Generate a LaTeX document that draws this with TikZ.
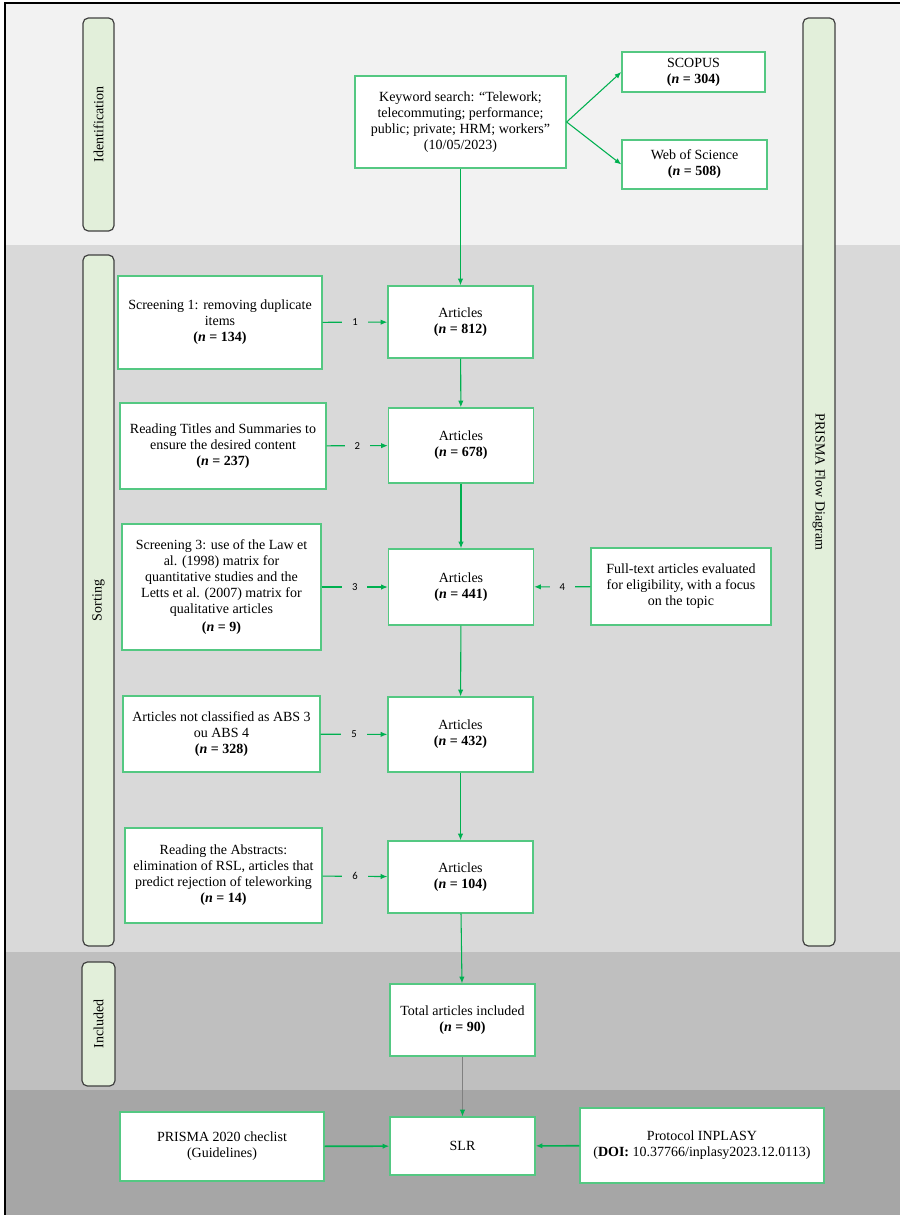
\documentclass[tikz,border=0pt]{standalone}
\usepackage{fontspec}
\setmainfont{Liberation Serif}
\newfontfamily\numfont{Carlito}
\usetikzlibrary{fit,arrows.meta}

\definecolor{bandA}{HTML}{F2F2F2}
\definecolor{bandB}{HTML}{D9D9D9}
\definecolor{bandC}{HTML}{BFBFBF}
\definecolor{bandD}{HTML}{A6A6A6}
\definecolor{boxgreen}{RGB}{84,200,130}
\definecolor{arrowgreen}{RGB}{0,176,80}
\definecolor{stagefill}{HTML}{E2EFDA}

\tikzset{
  box/.style={draw=boxgreen, fill=white, line width=1pt, inner sep=0pt,
    align=center, font=\fontsize{10.5}{12}\selectfont},
  wh/.style 2 args={minimum width=#1*0.75pt, minimum height=#2*0.75pt},
  stage/.style={draw=black!75, fill=stagefill, rounded corners=4pt,
    line width=0.9pt, inner sep=0pt},
  stagetext/.style={font=\fontsize{10.5}{12}\selectfont},
  flow/.style={draw=arrowgreen, line width=0.8pt, -{Latex[length=5pt,width=4pt]}},
  num/.style={fill=bandB, font=\numfont\fontsize{8}{9}\selectfont,
    inner sep=0pt, minimum width=19pt, minimum height=9pt}
}

\begin{document}
\begin{tikzpicture}[x=0.75pt, y=-0.75pt]

  % picture size in px (y downwards)
  \useasboundingbox (0,0) rectangle (900,1215);

  % ---- background bands ----
  \fill[bandA] (5,3) rectangle (900,245);
  \fill[bandB] (5,245) rectangle (900,952);
  \fill[bandC] (5,952) rectangle (900,1090);
  \fill[bandD] (5,1090) rectangle (900,1215);
  \draw[line width=1pt] (5,1215) -- (5,3) -- (900,3);

  % ---- stage labels ----
  \node[stage, fit={(83,18) (114,231)}] (ident) {};
  \node[stagetext, rotate=90] at (ident) {Identification};

  \node[stage, fit={(83,255) (114,946)}] (sort) {};
  \node[stagetext, rotate=90] at (sort) {Sorting};

  \node[stage, fit={(82,962) (115,1086)}] (incl) {};
  \node[stagetext, rotate=90] at (incl) {Included};

  \node[stage, fit={(803,18) (835,946)}] (flowdiag) {};
  \node[stagetext, rotate=-90] at (flowdiag) {PRISMA Flow Diagram};

  % ---- identification ----
  \node[box, wh={211}{92}] (search) at (460.5,122)
    {Keyword search: “Telework;\\ telecommuting; performance;\\ public; private; HRM; workers”\\ (10/05/2023)};
  \node[box, wh={143}{40}] (scopus) at (693.5,72)
    {SCOPUS\\ \textbf{(\textit{n} = 304)}};
  \node[box, wh={145}{49}] (wos) at (694.5,164.5)
    {Web of Science\\ \textbf{(\textit{n} = 508)}};

  % ---- main column ----
  \node[box, wh={145}{72}] (art812) at (460.5,322) {Articles\\ \textbf{(\textit{n} = 812)}};
  \node[box, wh={145}{75}] (art678) at (461,445.5) {Articles\\ \textbf{(\textit{n} = 678)}};
  \node[box, wh={145}{76}] (art441) at (461,587) {Articles\\ \textbf{(\textit{n} = 441)}};
  \node[box, wh={145}{75}] (art432) at (460.5,734.5) {Articles\\ \textbf{(\textit{n} = 432)}};
  \node[box, wh={145}{72}] (art104) at (460.5,877) {Articles\\ \textbf{(\textit{n} = 104)}};
  \node[box, wh={145}{72}] (total) at (462.5,1020)
    {Total articles included\\ \textbf{(\textit{n} = 90)}};

  % ---- screening steps (left) ----
  \node[box, wh={204}{93}] (scr1) at (220,322.5)
    {Screening 1: removing duplicate\\ items\\ \textbf{(\textit{n} = 134)}};
  \node[box, wh={206}{86}] (scr2) at (223,446)
    {Reading Titles and Summaries to\\ ensure the desired content\\ \textbf{(\textit{n} = 237)}};
  \node[box, wh={199}{126}] (scr3) at (221.5,587)
    {Screening 3: use of the Law et\\ al. (1998) matrix for\\ quantitative studies and the\\
     Letts et al. (2007) matrix for\\ qualitative articles\\[2pt] \textbf{(\textit{n} = 9)}};
  \node[box, wh={197}{76}] (scr5) at (221.5,734)
    {Articles not classified as ABS 3\\ ou ABS 4\\ \textbf{(\textit{n} = 328)}};
  \node[box, wh={197}{95}] (scr6) at (223.5,875.5)
    {Reading the Abstracts:\\ elimination of RSL, articles that\\ predict rejection of teleworking\\ \textbf{(\textit{n} = 14)}};

  % eligibility (right)
  \node[box, wh={180}{77}] (fulltext) at (681,586.5)
    {Full-text articles evaluated\\ for eligibility, with a focus\\ on the topic};

  % ---- review ----
  \node[box, wh={204}{69}] (checklist) at (222,1146.5) {PRISMA 2020 checlist\\ (Guidelines)};
  \node[box, wh={145}{58}] (slr) at (462.5,1146) {SLR};
  \node[box, wh={244}{75}] (protocol) at (702,1145.5)
    {Protocol INPLASY\\ (\textbf{DOI:} 10.37766/inplasy2023.12.0113)};

  % ---- connectors ----
  \draw[flow] (search.east) -- (scopus.west);
  \draw[flow] (search.east) -- (wos.west);
  \draw[flow] (search) -- (art812);
  \draw[flow] (art812) -- (art678);
  \draw[flow] (art678) -- (art441);
  \draw[flow] (art441) -- (art432);
  \draw[flow] (art432) -- (art104);
  \draw[flow] (art104) -- (total);
  \draw[gray, line width=0.6pt, -{Latex[length=5pt,width=4pt,color=arrowgreen]}] (total) -- (slr);

  % numbered exclusions
  \draw[flow] (scr1) -- node[num] {1} (art812);
  \draw[flow] (scr2) -- node[num] {2} (art678);
  \draw[flow] (scr3) -- node[num] {3} (art441);
  \draw[flow] (fulltext) -- node[num] {4} (art441);
  \draw[flow] (scr5) -- node[num] {5} (art432);
  \draw[flow] (scr6) -- node[num] {6} (art104);

  % inputs to the review
  \draw[flow, line width=1.2pt] (checklist) -- (slr);
  \draw[flow, line width=1.2pt] (protocol) -- (slr);

\end{tikzpicture}
\end{document}
